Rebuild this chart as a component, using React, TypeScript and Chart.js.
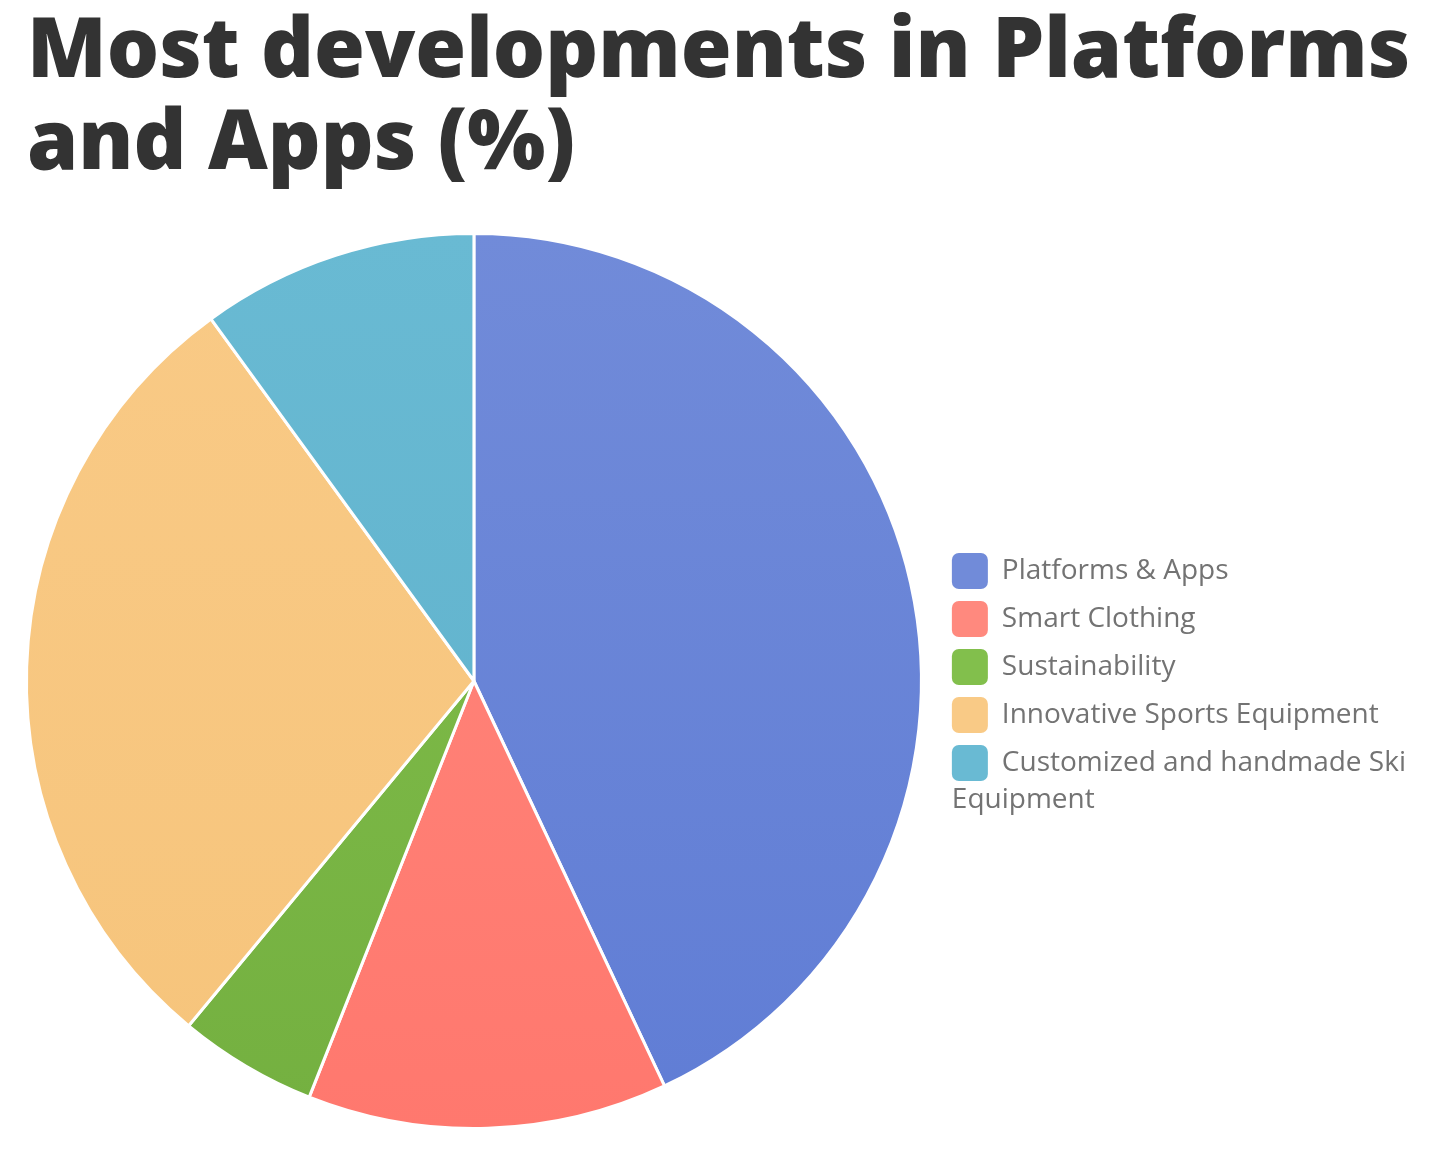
import React, { useEffect, useRef } from "react";
import { Chart, registerables } from "chart.js";

Chart.register(...registerables);

const titleLines = ["Most developments in Platforms", "and Apps (%)"];
const categories = [
  "Platforms & Apps",
  "Smart Clothing",
  "Sustainability",
  "Innovative Sports Equipment",
  "Customized and handmade Ski Equipment",
];
// first line shown next to the swatch; wrapped remainder flows under the swatch
const legendFirstLines = [
  "Platforms & Apps",
  "Smart Clothing",
  "Sustainability",
  "Innovative Sports Equipment",
  "Customized and handmade Ski",
];
const legendWrapped = ["", "", "", "", "Equipment"];
const values = [43, 13, 5, 29, 10];
const topColors = ["#718bd9", "#ff897e", "#82bf4c", "#f9ca86", "#69bad3"];
const bottomColors = ["#607dd5", "#ff786e", "#74b040", "#f6c47b", "#5eb0cb"];

const LEGEND_FONT = "28px 'Open Sans', sans-serif";
const LEGEND_LINE = 37;
const LEGEND_COLOR = "#737373";

const titleIndent = {
  id: "titleIndent",
  afterLayout(chart: any) {
    const t = chart.titleBlock;
    if (t) {
      t.left += 19;
    }
  },
};

const legendWrap = {
  id: "legendWrap",
  afterDraw(chart: any) {
    const lg = chart.legend;
    if (!lg || !lg.legendHitBoxes) return;
    const ctx = chart.ctx;
    ctx.save();
    ctx.font = LEGEND_FONT;
    ctx.fillStyle = LEGEND_COLOR;
    ctx.textAlign = "left";
    ctx.textBaseline = "middle";
    legendWrapped.forEach((txt, i) => {
      if (!txt) return;
      const hb = lg.legendHitBoxes[i];
      if (!hb) return;
      ctx.fillText(txt, hb.left, hb.top + 18 + LEGEND_LINE);
    });
    ctx.restore();
  },
};

export default function App() {
  const ref = useRef<HTMLCanvasElement | null>(null);

  useEffect(() => {
    if (!ref.current) return;
    const chart = new Chart(ref.current, {
      type: "pie",
      data: {
        labels: categories,
        datasets: [
          {
            data: values,
            borderColor: "#ffffff",
            borderWidth: 3,
            backgroundColor: (c: any) => {
              const ch = c.chart;
              const area = ch.chartArea;
              const i = c.dataIndex ?? 0;
              if (!area) return topColors[i];
              const g = ch.ctx.createLinearGradient(0, area.top, 0, area.bottom);
              g.addColorStop(0, topColors[i]);
              g.addColorStop(1, bottomColors[i]);
              return g;
            },
          },
        ],
      },
      plugins: [titleIndent, legendWrap],
      options: {
        animation: false,
        responsive: true,
        maintainAspectRatio: false,
        layout: { padding: { left: 0, right: 14, top: 0, bottom: 12 } },
        plugins: {
          title: {
            display: true,
            text: titleLines,
            align: "start",
            color: "#333333",
            font: { family: "'Open Sans', sans-serif", size: 82.4, weight: 800 as any, lineHeight: "92px" as any },
            padding: { top: 0, bottom: 40 },
          },
          legend: {
            position: "right",
            align: "center",
            title: {
              display: true,
              text: "",
              font: { size: 10, lineHeight: "10px" as any },
              padding: { top: 224, bottom: 0 },
            },
            labels: {
              color: LEGEND_COLOR,
              font: { family: "'Open Sans', sans-serif", size: 28, lineHeight: LEGEND_LINE + "px" as any },
              boxWidth: 36,
              boxHeight: 36,
              padding: 12,
              useBorderRadius: true,
              borderRadius: 7,
              generateLabels: () =>
                categories.map((_, i) => ({
                  text: legendWrapped[i] ? [legendFirstLines[i], " "] : legendFirstLines[i],
                  fillStyle: topColors[i],
                  strokeStyle: topColors[i],
                  lineWidth: 0,
                  borderRadius: 7,
                  fontColor: LEGEND_COLOR,
                  hidden: false,
                  index: i,
                })) as any,
            },
          },
          tooltip: { enabled: false },
        },
      },
    });
    return () => chart.destroy();
  }, []);

  return (
    <div style={{ position: "relative", width: 1422, height: 1134 }}>
      <canvas ref={ref} />
    </div>
  );
}
